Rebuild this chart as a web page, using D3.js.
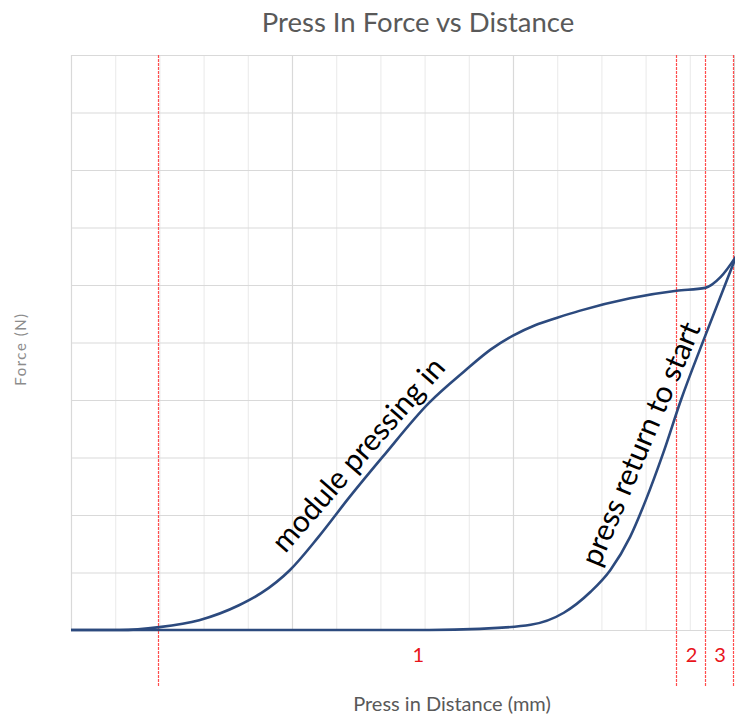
<!DOCTYPE html>
<html>
<head>
<meta charset="utf-8">
<script src="https://cdn.jsdelivr.net/npm/d3@7"></script>
<style>
    body { margin: 0; background: #ffffff; }
    svg text { font-family: Lato, "Open Sans", sans-serif; }
</style>
</head>
<body>
<script>

// distance / force in grid units (no tick labels on the original chart)
var pressInDist  = [0, 1.1, 2.0, 2.9, 3.8, 4.3, 4.95, 5.6, 6.3, 7.05, 8.1, 8.9, 9.5, 10.0, 10.5, 11.0, 11.5, 12.65, 13.7, 14.35, 14.7, 15.05];
var pressInForce = [0, 0, 0.05, 0.17, 0.43, 0.64, 1.04, 1.62, 2.31, 3.01, 3.95, 4.5, 4.88, 5.12, 5.3, 5.43, 5.55, 5.77, 5.9, 5.95, 6.14, 6.5];

var returnDist  = [0, 8.1, 9.25, 10.4, 11.15, 11.75, 12.2, 12.65, 13.0, 13.4, 13.8, 14.3, 15.05];
var returnForce = [0, 0, 0.02, 0.09, 0.30, 0.66, 1.04, 1.62, 2.25, 3.08, 4.0, 5.02, 6.5];

// red section markers and their numbers
var sectionBounds = [2, 13.71, 14.37, 15];
var sectionLabels = ["1", "2", "3"];

// annotation text written along the curves
var curveLabels = ["module pressing in", "press return to start"];
var curveLabelDist = [4.85, 11.95];
var curveLabelForce = [1.32, 1.08];

var xTicks = d3.range(0, 16);
var yTicks = d3.range(0, 11);

function PlotPressIn() {

    var W = 735, H = 715;
    var margin = { top: 55, right: 1, bottom: 85, left: 71 };

    var svg = d3.select("body").append("svg")
        .attr("width", W)
        .attr("height", H);

    var x = d3.scaleLinear()
        .domain([0, 15])
        .range([margin.left, W - margin.right]);

    var y = d3.scaleLinear()
        .domain([0, 10])
        .range([H - margin.bottom, margin.top]);

    // vertical grid, every 5th line a bit darker
    svg.append("g")
        .attr("transform", "translate(0," + y(0) + ")")
        .call(d3.axisBottom(x).tickValues(xTicks).tickSize(-(y(0) - y(10))).tickFormat(""))
        .call(function (g) { g.select(".domain").remove(); })
        .selectAll(".tick line")
        .attr("stroke", function (d) { return d % 5 === 0 ? "#d9d9d9" : "#ededed"; })
        .attr("stroke-width", 1.2);

    // horizontal grid
    svg.append("g")
        .attr("transform", "translate(" + x(0) + ",0)")
        .call(d3.axisLeft(y).tickValues(yTicks).tickSize(-(x(15) - x(0))).tickFormat(""))
        .call(function (g) { g.select(".domain").remove(); })
        .selectAll(".tick line")
        .attr("stroke", "#d9d9d9")
        .attr("stroke-width", 1.2);

    // red dotted section lines, running below the axis
    svg.selectAll(".section")
        .data(sectionBounds)
        .enter().append("line")
        .attr("class", "section")
        .attr("x1", function (d) { return Math.round(x(d)) - 0.5; })
        .attr("x2", function (d) { return Math.round(x(d)) - 0.5; })
        .attr("y1", y(10))
        .attr("y2", y(-0.98))
        .attr("stroke", "#ff4d4d")
        .attr("stroke-width", 1.2)
        .attr("stroke-dasharray", "3,1");

    svg.selectAll(".section-label")
        .data(sectionLabels)
        .enter().append("text")
        .attr("class", "section-label")
        .attr("x", function (d, i) { return x((sectionBounds[i] + sectionBounds[i + 1]) / 2); })
        .attr("y", y(-0.55))
        .attr("text-anchor", "middle")
        .style("font-size", "20px")
        .style("fill", "#e8141b")
        .text(function (d) { return d; });

    var line = d3.line()
        .x(function (d) { return x(d[0]); })
        .y(function (d) { return y(d[1]); })
        .curve(d3.curveMonotoneX);

    var returnPts = returnDist.map(function (d, i) { return [d, returnForce[i]]; });
    var pressPts = pressInDist.map(function (d, i) { return [d, pressInForce[i]]; });

    svg.append("path")
        .datum(returnPts)
        .attr("d", line)
        .attr("fill", "none")
        .attr("stroke", "#2c4a7e")
        .attr("stroke-width", 2.6);

    svg.append("path")
        .datum(pressPts)
        .attr("d", line)
        .attr("fill", "none")
        .attr("stroke", "#2c4a7e")
        .attr("stroke-width", 2.6);

    // labels along the curves
    var angles = [-49, -67];
    svg.selectAll(".curve-label")
        .data(curveLabels)
        .enter().append("text")
        .attr("class", "curve-label")
        .attr("transform", function (d, i) {
            return "translate(" + x(curveLabelDist[i]) + "," + y(curveLabelForce[i]) + ") rotate(" + angles[i] + ")";
        })
        .style("font-size", "30px")
        .style("fill", "#000000")
        .text(function (d) { return d; });

    // title
    svg.append("text")
        .attr("x", 418)
        .attr("y", 32)
        .attr("text-anchor", "middle")
        .style("font-size", "27.5px")
        .style("fill", "#595959")
        .text("Press In Force vs Distance");

    // axis titles
    svg.append("text")
        .attr("x", 452)
        .attr("y", 711)
        .attr("text-anchor", "middle")
        .style("font-size", "20px")
        .style("fill", "#595959")
        .text("Press in Distance (mm)");

    svg.append("text")
        .attr("transform", "translate(26,349) rotate(-90)")
        .attr("text-anchor", "middle")
        .style("font-size", "15px")
        .style("letter-spacing", "1.5px")
        .style("fill", "#8c8c8c")
        .text("Force (N)");
}

PlotPressIn();

</script>
</body>
</html>
